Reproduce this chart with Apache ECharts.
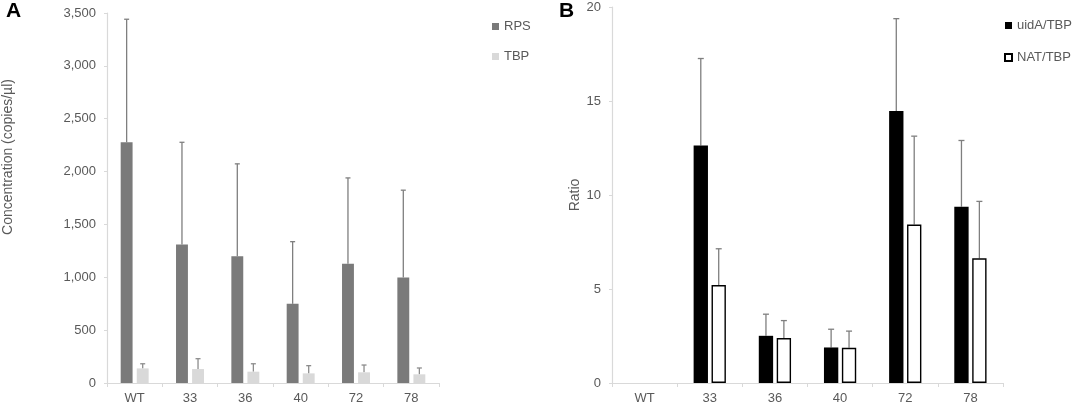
<!DOCTYPE html>
<html>
<head>
<meta charset="utf-8">
<script src="https://cdn.jsdelivr.net/npm/echarts@6/dist/echarts.min.js"></script>
<style>html,body{margin:0;padding:0;background:#fff}#c{width:1072px;height:405px}</style>
</head>
<body>
<div id="c"></div>
<script>
var categories = ['WT', '33', '36', '40', '72', '78'];
// Panel A
var rpsMean = [2277, 1311, 1198, 749, 1129, 997];
var rpsErr  = [3441, 2277, 2073, 1337, 1940, 1824];
var tbpMean = [138, 132, 107, 91, 101, 82];
var tbpErr  = [182, 230, 182, 164, 170, 142];
// Panel B
var uidaMean = [null, 12.63, 2.51, 1.89, 14.47, 9.38];
var uidaErr  = [null, 17.26, 3.66, 2.86, 19.38, 12.9];
var natMean  = [null, 5.21, 2.39, 1.87, 8.43, 6.63];
var natErr   = [null, 7.14, 3.32, 2.76, 13.13, 9.66];
var ticksA = [0, 500, 1000, 1500, 2000, 2500, 3000, 3500];
var ticksB = [0, 5, 10, 15, 20];

var FONT = '"Liberation Sans", Arial, sans-serif';
var TXT = '#595959';
var AXC = '#d9d9d9';

function errData(mean, err) {
  var out = [];
  for (var i = 0; i < mean.length; i++) {
    if (mean[i] != null) out.push([i, mean[i], err[i]]);
  }
  return out;
}
function errSeries(name, xi, mean, err, barPct, gapPct, side, cap, color) {
  return {
    type: 'custom', name: name, xAxisIndex: xi, yAxisIndex: xi, z: 1, silent: true,
    data: errData(mean, err),
    renderItem: function (params, api) {
      var band = api.size([1, 0])[0];
      var bw = band * barPct;
      var off = side * (bw + bw * gapPct) / 2;
      var p0 = api.coord([api.value(0), api.value(1)]);
      var p1 = api.coord([api.value(0), api.value(2)]);
      var x = p0[0] + off;
      var st = { stroke: color, lineWidth: 1.3 };
      return {
        type: 'group', children: [
          { type: 'line', shape: { x1: x, y1: p0[1], x2: x, y2: p1[1] }, style: st },
          { type: 'line', shape: { x1: x - cap / 2, y1: p1[1], x2: x + cap / 2, y2: p1[1] }, style: st }
        ]
      };
    }
  };
}
function xAx(gi) {
  return {
    type: 'category', gridIndex: gi, data: categories,
    axisLine: { lineStyle: { color: AXC, width: 1.2 } },
    axisTick: { show: true, length: 4, lineStyle: { color: AXC } },
    axisLabel: { color: TXT, fontSize: 13, fontFamily: FONT, margin: 9 }
  };
}
function yAx(gi, min, max, interval, sep) {
  return {
    type: 'value', gridIndex: gi, min: min, max: max, interval: interval,
    axisLine: { show: true, lineStyle: { color: AXC, width: 1.2 } },
    axisTick: { show: true, length: 3, lineStyle: { color: AXC } },
    splitLine: { show: false },
    axisLabel: {
      color: TXT, fontSize: 13, fontFamily: FONT, margin: 11,
      formatter: function (v) { return sep ? v.toLocaleString('en-US') : String(v); }
    }
  };
}

var chart = echarts.init(document.getElementById('c'), null, { renderer: 'canvas' });
chart.setOption({
  animation: false,
  backgroundColor: '#fff',
  grid: [
    { left: 107, top: 13, width: 332, height: 370.5 },
    { left: 612, top: 7, width: 391, height: 376 }
  ],
  xAxis: [xAx(0), xAx(1)],
  yAxis: [
    yAx(0, ticksA[0], ticksA[ticksA.length - 1], 500, true),
    yAx(1, ticksB[0], ticksB[ticksB.length - 1], 5, false)
  ],
  legend: [
    {
      data: ['RPS', 'TBP'], orient: 'vertical', left: 487, top: 15, itemGap: 17,
      itemWidth: 7, itemHeight: 7, icon: 'rect',
      textStyle: { color: TXT, fontSize: 13, fontFamily: FONT }
    },
    {
      data: ['uidA/TBP', 'NAT/TBP'], orient: 'vertical', left: 999, top: 14, itemGap: 19,
      itemWidth: 7, itemHeight: 7, icon: 'rect',
      textStyle: { color: TXT, fontSize: 13, fontFamily: FONT }
    }
  ],
  graphic: [
    { type: 'text', left: 6, top: 1, style: { text: 'A', font: 'bold 21px ' + FONT, fill: '#000' } },
    { type: 'text', left: 559, top: 1, style: { text: 'B', font: 'bold 21px ' + FONT, fill: '#000' } },
    { type: 'text', x: 8, y: 157, rotation: Math.PI / 2,
      style: { text: 'Concentration (copies/\u00b5l)', font: '14px ' + FONT, fill: TXT, align: 'center', verticalAlign: 'middle' } },
    { type: 'text', x: 575, y: 195, rotation: Math.PI / 2,
      style: { text: 'Ratio', font: '14px ' + FONT, fill: TXT, align: 'center', verticalAlign: 'middle' } }
  ],
  series: [
    { type: 'bar', name: 'RPS', xAxisIndex: 0, yAxisIndex: 0, data: rpsMean, barWidth: '21.5%', barGap: '35%',
      itemStyle: { color: '#7a7a7a' } },
    { type: 'bar', name: 'TBP', xAxisIndex: 0, yAxisIndex: 0, data: tbpMean, barWidth: '21.5%', barGap: '35%',
      itemStyle: { color: '#d9d9d9' } },
    errSeries('RPSerr', 0, rpsMean, rpsErr, 0.215, 0.35, -1, 5, '#7f7f7f'),
    errSeries('TBPerr', 0, tbpMean, tbpErr, 0.215, 0.35, 1, 5, '#8c8c8c'),
    { type: 'bar', name: 'uidA/TBP', xAxisIndex: 1, yAxisIndex: 1, data: uidaMean, barWidth: '22%', barGap: '25%',
      itemStyle: { color: '#000' } },
    { type: 'bar', name: 'NAT/TBP', xAxisIndex: 1, yAxisIndex: 1, data: natMean, barWidth: '22%', barGap: '25%',
      itemStyle: { color: '#fff', borderColor: '#000', borderWidth: 1.4 } },
    errSeries('uidAerr', 1, uidaMean, uidaErr, 0.22, 0.25, -1, 6, '#7f7f7f'),
    errSeries('NATerr', 1, natMean, natErr, 0.22, 0.25, 1, 6, '#7f7f7f')
  ]
});
</script>
</body>
</html>
